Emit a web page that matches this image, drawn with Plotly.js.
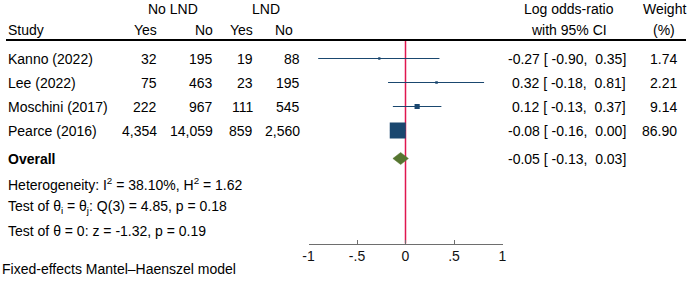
<!DOCTYPE html>
<html>
<head>
<meta charset="utf-8">
<script src="https://cdn.plot.ly/plotly-3.0.1.min.js"></script>
<style>html,body{margin:0;padding:0;background:#fff;}#chart{width:691px;height:288px;}</style>
</head>
<body>
<div id="chart"></div>
<script>
// ---- data ----
const studies = ['Kanno (2022)', 'Lee (2022)', 'Moschini (2017)', 'Pearce (2016)'];
const noLndYes = [32, 75, 222, 4354];
const noLndNo = [195, 463, 967, 14059];
const lndYes = [19, 23, 111, 859];
const lndNo = [88, 195, 545, 2560];
const estimate = [-0.27, 0.32, 0.12, -0.08];
const ciLow = [-0.90, -0.18, -0.13, -0.16];
const ciHigh = [0.35, 0.81, 0.37, 0.00];
const weight = [1.74, 2.21, 9.14, 86.90];
const overallEst = [-0.05];
const overallLow = [-0.13];
const overallHigh = [0.03];
const tickVals = [-1, -0.5, 0, 0.5, 1];
const tickLabels = ['-1', '-.5', '0', '.5', '1'];
const statLines = [
  'Heterogeneity: I<sup>2</sup> = 38.10%, H<sup>2</sup> = 1.62',
  'Test of \u03b8<sub>i</sub> = \u03b8<sub>j</sub>: Q(3) = 4.85, p = 0.18',
  'Test of \u03b8 = 0: z = -1.32, p = 0.19'
];
const noteText = 'Fixed-effects Mantel\u2013Haenszel model';

// ---- helpers ----
const W = 691, H = 288;
const NAVY = '#1a476f', GREEN = '#55752f', RED = '#e0164f';
const FONT = 'Liberation Sans, Arial, sans-serif';
const FS = 14;
const px = v => v / W;
function comma(n) { return String(n).replace(/\B(?=(\d{3})+(?!\d))/g, ','); }
function f2(v) { return v.toFixed(2); }
function ciText(e, l, h) {
  const pad = s => (s.charAt(0) === '-' ? s : '\u00a0' + s);
  return f2(e) + ' [\u00a0' + pad(f2(l)) + ',\u00a0' + pad(f2(h)) + ']';
}

// row layout (row units)
const rowPx = 24, row1Px = 58.5;
const yTop = 1 - row1Px / rowPx;            // value at pixel 0
const yBot = 1 + (H - row1Px) / rowPx;      // value at pixel H
const rowOf = p => 1 + (p - row1Px) / rowPx;
const hdr1 = rowOf(9), hdr2 = rowOf(29.5), hdrLine = rowOf(40);
const overallRow = rowOf(158.5);
const statRows = [rowOf(183.5), rowOf(207), rowOf(230.5)];
const axisPx = 243.5;
const axisRow = rowOf(axisPx);
const noteRow = rowOf(269);

const annotations = [];
function ann(text, xpx, y, anchor, extra) {
  annotations.push(Object.assign({
    text: text, x: px(xpx), xref: 'paper', y: y, yref: 'y',
    xanchor: anchor, yanchor: 'middle', showarrow: false, borderpad: 0,
    font: { family: FONT, size: FS, color: '#000' }
  }, extra || {}));
}

// headers
ann('No LND', 173, hdr1, 'center');
ann('LND', 266, hdr1, 'center');
ann('Study', 7, hdr2, 'left');
ann('Yes', 158, hdr2, 'right');
ann('No', 214, hdr2, 'right');
ann('Yes', 254, hdr2, 'right');
ann('No', 294, hdr2, 'right');
ann('Log odds-ratio', 569, hdr1, 'center');
ann('with 95% CI', 569, hdr2, 'center');
ann('Weight', 664, hdr1, 'center');
ann('(%)', 664, hdr2, 'center');

// study rows
studies.forEach((s, i) => {
  const r = i + 1;
  ann(s, 7, r, 'left');
  ann(comma(noLndYes[i]), 158, r, 'right');
  ann(comma(noLndNo[i]), 214, r, 'right');
  ann(comma(lndYes[i]), 254, r, 'right');
  ann(comma(lndNo[i]), 301, r, 'right');
  ann(ciText(estimate[i], ciLow[i], ciHigh[i]), 627, r, 'right');
  ann(weight[i].toFixed(2), 678, r, 'right');
});

ann('<b>Overall</b>', 7, overallRow, 'left');
ann(ciText(overallEst[0], overallLow[0], overallHigh[0]), 627, overallRow, 'right');
statLines.forEach((t, i) => ann(t, 7, statRows[i], 'left'));
ann(noteText, 1, noteRow, 'left');

// ---- traces ----
const traces = [];
studies.forEach((s, i) => {
  traces.push({
    x: [ciLow[i], ciHigh[i]], y: [i + 1, i + 1], mode: 'lines', type: 'scatter',
    line: { color: NAVY, width: 1 }, hoverinfo: 'skip'
  });
});
const maxW = Math.max(...weight);
traces.push({
  x: estimate, y: studies.map((s, i) => i + 1), mode: 'markers', type: 'scatter',
  marker: { symbol: 'square', color: NAVY, opacity: 1, size: weight.map(w => 16 * Math.sqrt(w / maxW)), line: { width: 0 } },
  hoverinfo: 'skip'
});
const dh = 6 / rowPx;
traces.push({
  x: [overallLow[0], overallEst[0], overallHigh[0], overallEst[0], overallLow[0]],
  y: [overallRow, overallRow - dh, overallRow, overallRow + dh, overallRow],
  mode: 'lines', type: 'scatter', fill: 'toself', fillcolor: GREEN,
  line: { color: GREEN, width: 0.5 }, hoverinfo: 'skip'
});

const layout = {
  width: W, height: H,
  margin: { l: 0, r: 0, t: 0, b: 0, pad: 0 },
  paper_bgcolor: '#fff', plot_bgcolor: '#fff',
  showlegend: false,
  font: { family: FONT, size: FS, color: '#000' },
  xaxis: {
    domain: [px(308.5), px(502.5)], range: [-1, 1], anchor: 'free', position: 1 - axisPx / H,
    showline: true, linecolor: '#6e6e6e', linewidth: 1,
    ticks: 'inside', ticklen: 4, tickwidth: 1, tickcolor: '#6e6e6e',
    tickvals: tickVals, ticktext: tickLabels,
    tickfont: { family: FONT, size: FS, color: '#111' },
    showgrid: false, zeroline: false, fixedrange: true
  },
  yaxis: {
    domain: [0, 1], range: [yBot, yTop], visible: false, showgrid: false, zeroline: false, fixedrange: true
  },
  shapes: [
    { type: 'line', xref: 'paper', yref: 'y', x0: px(6), x1: px(686), y0: hdrLine, y1: hdrLine,
      line: { color: '#000', width: 2 } },
    { type: 'line', xref: 'x', yref: 'y', x0: 0, x1: 0, y0: hdrLine, y1: axisRow,
      line: { color: RED, width: 1.5 }, layer: 'below' }
  ],
  annotations: annotations
};

Plotly.newPlot('chart', traces, layout, { displayModeBar: false, staticPlot: true });
</script>
</body>
</html>
